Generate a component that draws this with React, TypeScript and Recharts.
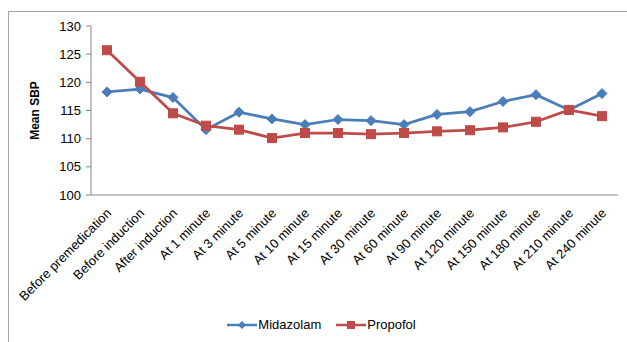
import { LineChart, Line, XAxis, YAxis, Legend } from "recharts";

const categories = [
  "Before premedication",
  "Before induction",
  "After induction",
  "At 1 minute",
  "At 3 minute",
  "At 5 minute",
  "At 10 minute",
  "At 15 minute",
  "At 30 minute",
  "At 60 minute",
  "At 90 minute",
  "At 120 minute",
  "At 150 minute",
  "At 180 minute",
  "At 210 minute",
  "At 240 minute",
];

const midazolam = [118.3, 118.8, 117.3, 111.6, 114.7, 113.5, 112.5, 113.4, 113.2, 112.5, 114.3, 114.8, 116.6, 117.8, 115.1, 118.0];
const propofol = [125.7, 120.1, 114.5, 112.3, 111.6, 110.1, 111.0, 111.0, 110.8, 111.0, 111.3, 111.5, 112.0, 113.0, 115.1, 114.0];

const yTicks = [100, 105, 110, 115, 120, 125, 130];

const BLUE = "#4A7EBB";
const RED = "#BE4B48";
const AXIS = "#868686";
const FONT = "'Liberation Sans', Arial, sans-serif";

const data = categories.map((name, i) => ({ name, midazolam: midazolam[i], propofol: propofol[i] }));

const Diamond = (props: any) => {
  const { cx, cy, key } = props;
  if (cx == null || cy == null) return null;
  const r = 5;
  return (
    <polygon
      key={key}
      points={`${cx},${cy - r} ${cx + r},${cy} ${cx},${cy + r} ${cx - r},${cy}`}
      fill={BLUE}
      stroke={BLUE}
    />
  );
};

const Square = (props: any) => {
  const { cx, cy, key } = props;
  if (cx == null || cy == null) return null;
  const s = 9;
  return <rect key={key} x={cx - s / 2} y={cy - s / 2} width={s} height={s} fill={RED} stroke={RED} />;
};

const XTick = ({ x, y, payload }: any) => (
  <g transform={`translate(${x + 5},${y + 19})`}>
    <text textAnchor="end" transform="rotate(-45)" fontSize={13} fontFamily={FONT} fill="#000">
      {payload.value}
    </text>
  </g>
);

const LegendContent = () => (
  <div
    style={{
      display: "flex",
      justifyContent: "center",
      alignItems: "center",
      fontFamily: FONT,
      fontSize: 13,
      color: "#000",
    }}
  >
    <svg width={30} height={10}>
      <line x1={0} y1={5} x2={30} y2={5} stroke={BLUE} strokeWidth={2.5} />
      <polygon points="15,1 19,5 15,9 11,5" fill={BLUE} />
    </svg>
    <span style={{ marginLeft: 1 }}>Midazolam</span>
    <svg width={30} height={10} style={{ marginLeft: 15 }}>
      <line x1={0} y1={5} x2={30} y2={5} stroke={RED} strokeWidth={2.5} />
      <rect x={11} y={1} width={8} height={8} fill={RED} />
    </svg>
    <span style={{ marginLeft: 1 }}>Propofol</span>
  </div>
);

export default function App() {
  return (
    <div style={{ position: "absolute", left: 0, top: 0, width: 627, height: 342, background: "#fff" }}>
      <div
        style={{
          position: "absolute",
          left: 8,
          top: 11,
          width: 640,
          height: 360,
          border: "1px solid #A6A6A6",
          boxSizing: "border-box",
        }}
      />
      <LineChart
        width={627}
        height={342}
        data={data}
        margin={{ top: 26, right: 9, left: 0, bottom: 0 }}
        style={{ position: "absolute", left: 0, top: 0 }}
      >
        <XAxis
          dataKey="name"
          interval={0}
          height={147}
          padding={{ left: 16, right: 16 }}
          tickLine={false}
          tickSize={0}
          tickMargin={0}
          axisLine={{ stroke: AXIS }}
          tick={<XTick />}
        />
        <YAxis
          width={91}
          domain={[100, 130]}
          ticks={yTicks}
          interval={0}
          tickSize={5}
          tickMargin={5}
          axisLine={{ stroke: AXIS }}
          tickLine={{ stroke: AXIS }}
          tick={{ fontSize: 13, fontFamily: FONT, fill: "#000" }}
          label={{
            content: ({ viewBox }: any) => {
              const cx = viewBox.x + 35;
              const cy = viewBox.y + viewBox.height / 2;
              return (
                <text
                  x={cx}
                  y={cy}
                  transform={`rotate(-90 ${cx} ${cy})`}
                  textAnchor="middle"
                  dominantBaseline="central"
                  fontSize={12}
                  fontWeight="bold"
                  fontFamily={FONT}
                  fill="#000"
                >
                  Mean SBP
                </text>
              );
            },
          }}
        />
        <Legend
          layout="horizontal"
          verticalAlign="middle"
          align="center"
          content={<LegendContent />}
          wrapperStyle={{ top: 317, left: 8, width: 627 }}
        />
        <Line
          type="linear"
          dataKey="midazolam"
          name="Midazolam"
          stroke={BLUE}
          strokeWidth={2.75}
          dot={Diamond}
          activeDot={false}
          isAnimationActive={false}
        />
        <Line
          type="linear"
          dataKey="propofol"
          name="Propofol"
          stroke={RED}
          strokeWidth={2.75}
          dot={Square}
          activeDot={false}
          isAnimationActive={false}
        />
      </LineChart>
    </div>
  );
}
